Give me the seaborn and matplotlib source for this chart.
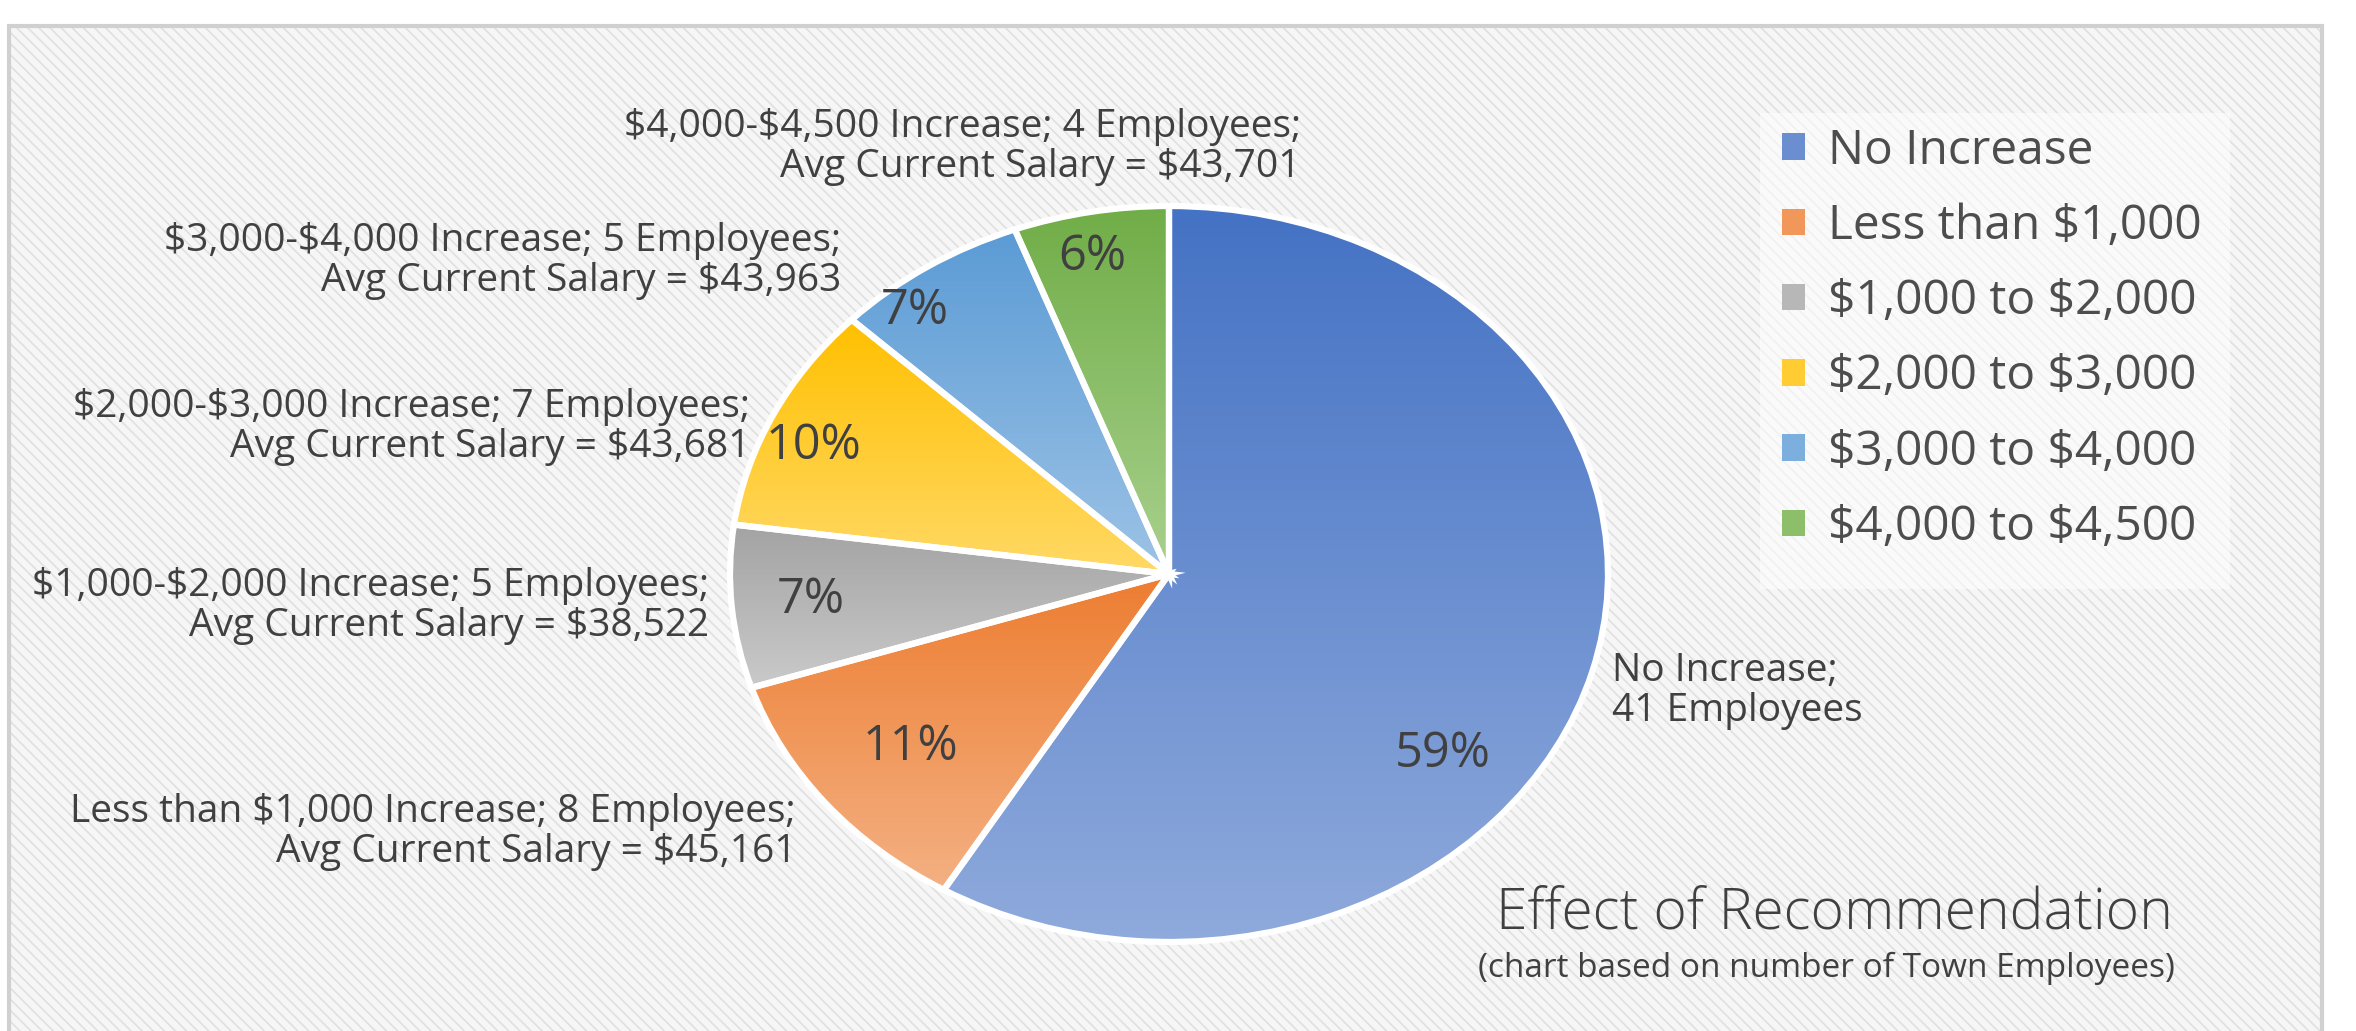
"""Pie chart: effect of the salary recommendation on town employees."""

import matplotlib

matplotlib.use("Agg")
import matplotlib.pyplot as plt
import numpy as np
import seaborn as sns
from matplotlib.patches import Patch, Rectangle

# --------------------------------------------------------------------------- #
# Data
# --------------------------------------------------------------------------- #
categories = ["No Increase", "Less than $1,000", "$1,000 to $2,000",
              "$2,000 to $3,000", "$3,000 to $4,000", "$4,000 to $4,500"]
increase_ranges = ["No Increase", "Less than $1,000", "$1,000-$2,000",
                   "$2,000-$3,000", "$3,000-$4,000", "$4,000-$4,500"]
employees = [41, 8, 5, 7, 5, 4]
avg_salary = [None, 45161, 38522, 43681, 43963, 43701]

# gradient colours per slice (top -> bottom)
TOP_COLORS = ["#4472C4", "#ED7D31", "#A3A3A3", "#FFC000", "#5B9BD5", "#70AD47"]
BOTTOM_COLORS = ["#8FAADC", "#F4B183", "#CACACA", "#FFD966", "#9DC3E6", "#A9D18E"]

TEXT_COLOR = "#404040"

# --------------------------------------------------------------------------- #
# Layout (pixel coordinates of the 2356x1031 canvas)
# --------------------------------------------------------------------------- #
W, H, DPI = 2356, 1031, 100
PIE_CX, PIE_CY, PIE_RX, PIE_RY = 1169, 574, 439, 368

# percent-label positions in unit-pie coordinates
PCT_XY = [(0.624, -0.489), (-0.588, -0.470), (-0.815, -0.071),
          (-0.81, 0.348), (-0.58, 0.715), (-0.175, 0.86)]
# category labels: (x, y centre, alignment)
LABEL_POS = [(1612, 691, "left"), (796, 832, "right"), (709, 606, "right"),
             (750, 427, "right"), (841, 261, "right"), (1301, 147, "right")]


def fx(px):
    return px / W


def fy(py):
    return 1 - py / H


sns.set_theme(style="white")
plt.rcParams["font.family"] = ["Open Sans", "DejaVu Sans"]
plt.rcParams["hatch.linewidth"] = 1.2
plt.rcParams["text.parse_math"] = False

fig = plt.figure(figsize=(W / DPI, H / DPI), dpi=DPI)
fig.patch.set_facecolor("white")

# striped chart-area background + grey frame
bg_h = 1.05 - 26 / H
fig.patches.append(Rectangle((fx(9), -0.05), fx(2322 - 9), bg_h,
                             transform=fig.transFigure, facecolor="#f6f6f6",
                             edgecolor="#e0e0e0", hatch="\\\\\\", lw=0, zorder=-10))
fig.patches.append(Rectangle((fx(9), -0.05), fx(2322 - 9), bg_h,
                             transform=fig.transFigure, facecolor="none",
                             edgecolor="#d0d0d0", lw=3, zorder=-9))
# lighter legend panel
fig.patches.append(Rectangle((fx(1760), fy(589)), fx(2230 - 1760), (589 - 113) / H,
                             transform=fig.transFigure, facecolor="white",
                             alpha=0.55, edgecolor="none", zorder=-8))

# --------------------------------------------------------------------------- #
# Pie (stretched horizontally like the original)
# --------------------------------------------------------------------------- #
ax = fig.add_axes([fx(PIE_CX - PIE_RX), (H - PIE_CY - PIE_RY) / H,
                   2 * PIE_RX / W, 2 * PIE_RY / H])
ax.set_zorder(2)
wedges, _ = ax.pie(employees, startangle=90, counterclock=False,
                   wedgeprops=dict(edgecolor="white", linewidth=4.5))

grad = np.linspace(0, 1, 256).reshape(-1, 1)
for w, top, bot in zip(wedges, TOP_COLORS, BOTTOM_COLORS):
    cmap = sns.blend_palette([bot, top], as_cmap=True)
    x0, y0, x1, y1 = w.get_path().get_extents().extents
    im = ax.imshow(grad, cmap=cmap, extent=(x0, x1, y0, y1), origin="lower",
                   aspect="auto", interpolation="bilinear", zorder=1)
    im.set_clip_path(w)
    w.set_facecolor("none")
    w.set_zorder(2)
    w.set_clip_on(False)

ax.set_aspect("auto")
ax.set_xlim(-1, 1)
ax.set_ylim(-1, 1)
ax.axis("off")

total = sum(employees)
for n, (px, py) in zip(employees, PCT_XY):
    ax.text(px, py, f"{n / total * 100:.0f}%", ha="center", va="center",
            fontsize=35, color=TEXT_COLOR, zorder=3)

# --------------------------------------------------------------------------- #
# Category labels
# --------------------------------------------------------------------------- #
for rng, n, sal, (lx, ly, al) in zip(increase_ranges, employees, avg_salary, LABEL_POS):
    if sal is None:
        txt = f"{rng};\n{n} Employees"
    else:
        txt = f"{rng} Increase; {n} Employees;\nAvg Current Salary = ${sal:,}"
    fig.text(fx(lx), fy(ly), txt, ha=al, va="center", multialignment=al,
             fontsize=28, color=TEXT_COLOR, linespacing=1.1)

# --------------------------------------------------------------------------- #
# Legend and title
# --------------------------------------------------------------------------- #
handles = [Patch(facecolor=sns.blend_palette([t, b], 3)[1], edgecolor="none")
           for t, b in zip(TOP_COLORS, BOTTOM_COLORS)]
leg = fig.legend(handles, categories, loc="upper left",
                 bbox_to_anchor=(fx(1782), fy(127)), frameon=False, fontsize=34.5,
                 handlelength=0.47, handleheight=0.47, handletextpad=0.5,
                 labelspacing=0.58, borderpad=0, borderaxespad=0)
for t in leg.get_texts():
    t.set_color("#4d4d4d")

fig.text(fx(2173), fy(914), "Effect of Recommendation", ha="right", va="center",
         fontsize=41, color=TEXT_COLOR, fontweight="light")
fig.text(fx(2175), fy(968), "(chart based on number of Town Employees)",
         ha="right", va="center", fontsize=24, color=TEXT_COLOR)

fig.savefig("out.png", dpi=DPI)
